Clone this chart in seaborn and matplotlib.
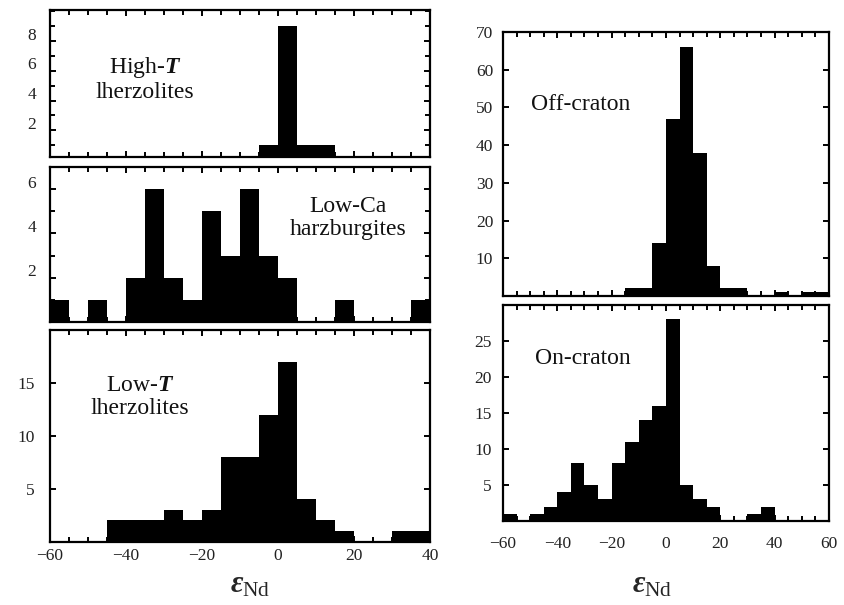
import numpy as np
import pandas as pd
import matplotlib
matplotlib.use('Agg')
import matplotlib.pyplot as plt
import matplotlib.transforms as mtransforms
from matplotlib.ticker import MultipleLocator, FixedLocator
import seaborn as sns

# ---- data: counts per 5-unit eNd bin ----
# left column bins: -60 .. 40 ; right column bins: -60 .. 60
high_t = [0, 0, 0, 0, 0, 0, 0, 0, 0, 0, 0, 1, 9, 1, 1, 0, 0, 0, 0, 0]
low_ca = [1, 0, 1, 0, 2, 6, 2, 1, 5, 3, 6, 3, 2, 0, 0, 1, 0, 0, 0, 1]
low_t = [0, 0, 0, 2, 2, 2, 3, 2, 3, 8, 8, 12, 17, 4, 2, 1, 0, 0, 1, 1]
off_craton = [0, 0, 0, 0, 0, 0, 0, 0, 0, 2, 2, 14, 47, 66, 38, 8, 2, 2, 0, 0, 1, 0, 1, 1]
on_craton = [1, 0, 1, 2, 4, 8, 5, 3, 8, 11, 14, 16, 28, 5, 3, 2, 0, 0, 1, 2, 0, 0, 0, 0]

panel_labels = ["High-$T$\nlherzolites", "Low-Ca\nharzburgites", "Low-$T$\nlherzolites",
                "Off-craton", "On-craton"]
left_xticks = [-60, -40, -20, 0, 20, 40]
right_xticks = [-60, -40, -20, 0, 20, 40, 60]
xlabel = r"$\varepsilon_{\mathrm{Nd}}$"

sns.set_style("ticks")
plt.rcParams['font.family'] = ['Liberation Serif', 'DejaVu Serif']
plt.rcParams['mathtext.fontset'] = 'custom'
plt.rcParams['mathtext.rm'] = 'Liberation Serif'
plt.rcParams['mathtext.it'] = 'Liberation Serif:italic:bold'
plt.rcParams['mathtext.bf'] = 'Liberation Serif:bold'

W, H = 845, 605
fig = plt.figure(figsize=(W / 100, H / 100), dpi=100)


def px_axes(x0, y0, x1, y1):
    return fig.add_axes([x0 / W, 1 - y1 / H, (x1 - x0) / W, (y1 - y0) / H])


def draw(ax, counts, lo, hi, ylim, ymajor, yminor, xticks, show_xlabels,
         label, label_xy, label_ha='center', ylab_shift=0.0, ypad=10, xpad=6):
    centers = np.arange(lo, hi, 5) + 2.5
    df = pd.DataFrame({'enD': centers, 'n': np.asarray(counts, dtype=float)})
    sns.histplot(data=df, x='enD', weights='n', binwidth=5, binrange=(lo, hi), ax=ax,
                 color='black', alpha=1, linewidth=0, edgecolor='none', element='bars')
    ax.set_xlim(lo, hi)
    ax.set_ylim(*ylim)
    ax.set_xlabel('')
    ax.set_ylabel('')
    ax.xaxis.set_major_locator(FixedLocator(xticks))
    ax.xaxis.set_minor_locator(MultipleLocator(5))
    ax.yaxis.set_major_locator(FixedLocator(ymajor))
    if yminor:
        ax.yaxis.set_minor_locator(MultipleLocator(yminor))
    else:
        ax.yaxis.set_minor_locator(FixedLocator([]))
    for s in ax.spines.values():
        s.set_visible(True)
        s.set_linewidth(1.6)
        s.set_color('black')
    ax.tick_params(which='both', direction='in', top=True, right=True,
                   width=1.4, color='black', labelsize=12.5, labelcolor='#222222')
    ax.tick_params(which='major', length=4.5)
    ax.tick_params(which='minor', length=3.5)
    ax.tick_params(axis='y', which='major', pad=ypad)
    ax.tick_params(axis='x', which='major', pad=xpad)
    if not show_xlabels:
        ax.tick_params(axis='x', labelbottom=False)
    if ylab_shift:
        off = mtransforms.ScaledTranslation(0, ylab_shift / 72, fig.dpi_scale_trans)
        for t in ax.get_yticklabels():
            t.set_transform(t.get_transform() + off)
    ax.text(label_xy[0], label_xy[1], label, transform=ax.transAxes,
            ha=label_ha, va='center', fontsize=17, multialignment='center',
            linespacing=1.15, color='#111111')


# left column (x: 50..430 px)
ax1 = px_axes(50, 10, 430, 157)
draw(ax1, high_t, -60, 40, (0.2, 10.1), [2, 4, 6, 8], 1, left_xticks, False,
     panel_labels[0], ((145 - 50) / 380, 1 - (79 - 10) / 147), ylab_shift=5.5, ypad=10)

ax2 = px_axes(50, 167, 430, 322)
draw(ax2, low_ca, -60, 40, (0, 7), [2, 4, 6], 1, left_xticks, False,
     panel_labels[1], ((348 - 50) / 380, 1 - (218 - 167) / 155), ylab_shift=5.5, ypad=10)

ax3 = px_axes(50, 330, 430, 541.5)
draw(ax3, low_t, -60, 40, (0, 20), [5, 10, 15], None, left_xticks, True,
     panel_labels[2], ((140 - 50) / 380, 1 - (397 - 330) / 211.5), ypad=11, xpad=5)

# right column (x: 503..829 px)
ax4 = px_axes(503, 32, 829, 296)
draw(ax4, off_craton, -60, 60, (0, 70), [10, 20, 30, 40, 50, 60, 70], None, right_xticks, False,
     panel_labels[3], ((581 - 503) / 326, 1 - (105 - 32) / 264), ypad=7)

ax5 = px_axes(503, 305, 829, 521)
draw(ax5, on_craton, -60, 60, (0, 30), [5, 10, 15, 20, 25], None, right_xticks, True,
     panel_labels[4], ((583 - 503) / 326, 1 - (358 - 305) / 216), ypad=8, xpad=11)

fig.text(250 / W, 1 - 585 / H, xlabel, ha='center', va='center', fontsize=22)
fig.text(652 / W, 1 - 585 / H, xlabel, ha='center', va='center', fontsize=22)

fig.savefig('out.png', dpi=100)
